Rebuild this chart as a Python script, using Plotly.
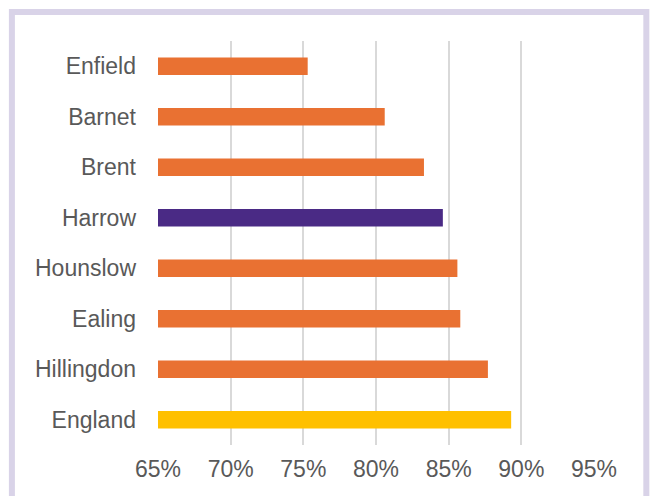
import plotly.graph_objects as go

categories = ["Enfield", "Barnet", "Brent", "Harrow", "Hounslow", "Ealing", "Hillingdon", "England"]
values = [75.3, 80.6, 83.3, 84.6, 85.6, 85.8, 87.7, 89.3]
colors = ["#E97132", "#E97132", "#E97132", "#4A2A85", "#E97132", "#E97132", "#E97132", "#FFC000"]
tick_vals = [65, 70, 75, 80, 85, 90, 95]
tick_text = ["65%", "70%", "75%", "80%", "85%", "90%", "95%"]

W, H = 651, 496
L, R, T, B = 158, 57.3, 41, 51
pw = W - L - R
ph = H - T - B

def px_x(x):
    return (x - L) / pw

def px_y(y):
    return (H - B - y) / ph

fig = go.Figure(go.Bar(
    y=categories,
    x=[v - 65 for v in values],
    base=65,
    orientation="h",
    marker=dict(color=colors, line=dict(width=0)),
    width=0.35,
))

fig.update_layout(
    width=W, height=H,
    margin=dict(l=L, r=R, t=T, b=B, autoexpand=False),
    paper_bgcolor="white",
    plot_bgcolor="white",
    showlegend=False,
    font=dict(family="Liberation Sans, Arial, sans-serif", size=23, color="#595959"),
    xaxis=dict(
        range=[65, 95],
        tickvals=tick_vals,
        ticktext=tick_text,
        showgrid=True,
        gridcolor="#D9D9D9",
        gridwidth=1.5,
        zeroline=False,
        showline=False,
        ticks="",
        ticklabelstandoff=8,
        fixedrange=True,
    ),
    yaxis=dict(
        categoryorder="array",
        categoryarray=categories[::-1],
        range=[-0.5, 7.5],
        showgrid=False,
        zeroline=False,
        showline=False,
        ticks="",
        ticklabelstandoff=21,
        fixedrange=True,
    ),
    shapes=[dict(
        type="rect", xref="paper", yref="paper",
        x0=px_x(12), x1=px_x(646), y0=px_y(520), y1=px_y(12),
        line=dict(color="#D9D3E8", width=6),
        fillcolor="rgba(0,0,0,0)",
        layer="below",
    )],
)

fig.write_html(
    "out.html",
    config={"displayModeBar": False},
    post_script="document.body.style.margin='0';document.body.style.overflow='hidden';",
)
